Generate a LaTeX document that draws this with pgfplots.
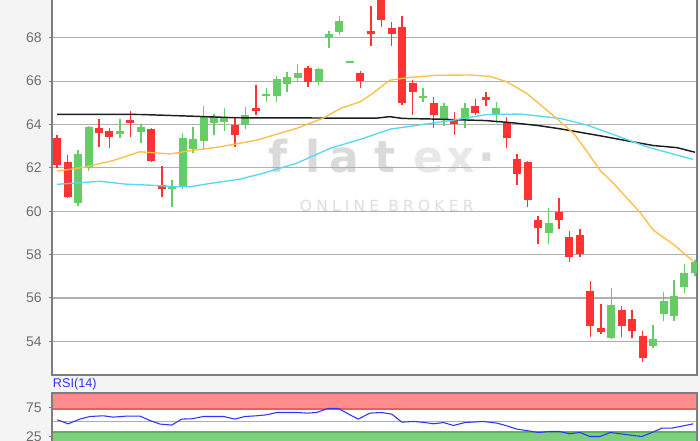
\documentclass[border=0pt]{standalone}
\usepackage{fontspec}
\setmainfont{Liberation Sans}
\newfontfamily\wmfont{DejaVu Sans}
\newfontfamily\wmfontsp{DejaVu Sans}[LetterSpace=28]
\usepackage{pgfplots}
\usepackage{pgfplotstable}
\pgfplotsset{compat=1.18}

\definecolor{cred}{RGB}{255,51,51}
\definecolor{cgreen}{RGB}{102,204,102}
\definecolor{bgray}{RGB}{244,244,244}
\definecolor{gridc}{RGB}{175,175,175}
\definecolor{axc}{RGB}{125,125,125}
\definecolor{tickc}{RGB}{110,110,110}
\definecolor{maorange}{RGB}{255,190,70}
\definecolor{macyan}{RGB}{85,215,245}
\definecolor{mablack}{RGB}{30,30,30}
\definecolor{rsiblue}{RGB}{50,50,255}
\definecolor{bandred}{RGB}{255,140,140}
\definecolor{bandredd}{RGB}{232,95,95}
\definecolor{bandgreen}{RGB}{125,208,125}
\definecolor{bandgreend}{RGB}{88,182,88}
\definecolor{wmA}{RGB}{218,218,218}
\definecolor{wmB}{RGB}{232,232,232}
\definecolor{wmC}{RGB}{222,222,222}

% up (green) candles: index open high low close
\pgfplotstableread{
i o h l c
2 60.39 62.82 60.26 62.64
3 62.05 63.92 61.87 63.90
6 63.55 64.24 63.39 63.70
8 63.67 64.00 63.13 63.90
11 61.05 61.44 60.21 61.12
12 61.16 63.60 61.02 63.36
13 62.85 63.90 62.70 63.33
14 63.25 64.85 62.82 64.33
15 64.08 64.50 63.50 64.33
16 64.13 64.74 63.72 64.28
18 63.97 64.82 63.79 64.43
20 65.33 65.67 65.05 65.39
21 65.33 66.23 65.05 66.10
22 65.85 66.43 65.51 66.20
23 66.13 66.77 65.97 66.36
25 65.97 66.60 65.82 66.54
26 68.05 68.31 67.51 68.16
27 68.28 69.00 68.12 68.78
28 66.87 66.94 66.87 66.94
35 65.23 65.67 65.05 65.31
37 64.20 65.00 63.93 64.85
39 64.24 64.97 63.82 64.77
42 64.48 65.05 64.05 64.77
47 59.01 60.13 58.47 59.47
53 54.17 56.47 54.09 55.67
57 53.80 54.74 53.68 54.12
58 55.25 56.29 54.95 55.87
59 55.18 56.83 54.95 56.10
60 56.49 57.55 56.24 57.14
61 57.16 57.75 57.01 57.67
}\upcandles

% down (red) candles: index open high low close
\pgfplotstableread{
i o h l c
0 63.36 63.51 61.98 62.13
1 62.28 62.60 60.59 60.64
4 63.82 64.24 62.97 63.62
5 63.70 63.82 62.90 63.44
7 64.20 64.60 63.43 64.08
9 63.78 63.82 62.28 62.33
10 61.21 62.10 60.67 61.01
17 63.97 64.28 62.97 63.51
19 64.74 65.82 64.43 64.62
24 66.59 66.70 65.71 65.97
29 66.36 66.48 65.67 66.00
30 68.32 69.46 67.62 68.16
31 70.10 70.30 68.51 68.82
32 68.43 68.74 67.62 68.16
33 68.51 69.00 64.90 64.97
34 65.93 66.05 64.43 65.51
36 64.97 65.25 63.85 64.43
38 64.24 64.59 63.51 64.00
40 64.85 65.16 64.43 64.54
41 65.28 65.51 64.85 65.13
43 64.13 64.36 62.90 63.36
44 62.39 62.62 61.21 61.70
45 62.28 62.30 60.21 60.52
46 59.59 59.78 58.47 59.24
48 59.98 60.59 59.16 59.59
49 58.80 59.10 57.67 57.87
50 58.90 59.16 57.87 58.03
51 56.33 56.78 54.21 54.71
52 54.63 55.71 54.34 54.44
54 55.44 55.63 54.21 54.71
55 55.03 55.44 54.14 54.47
56 54.26 54.49 53.03 53.22
}\downcandles

\begin{document}
\begin{tikzpicture}
% page background and plot areas
\fill[bgray] (0,0) rectangle (525pt,-330.75pt);
\fill[white] (39pt,0pt) rectangle (522.75pt,-281.25pt);
\fill[white] (39pt,-294.75pt) rectangle (522.75pt,-340pt);

% watermark
\begin{scope}[every node/.style={inner sep=0pt, anchor=base}]
\node[text=wmA, font=\wmfont\bfseries\fontsize{33}{36}\selectfont] at (208.5pt,-129.75pt) {f};
\node[text=wmA, font=\wmfont\bfseries\fontsize{33}{36}\selectfont] at (234.5pt,-129.75pt) {l};
\node[text=wmA, font=\wmfont\bfseries\fontsize{33}{36}\selectfont] at (258.5pt,-129.75pt) {a};
\node[text=wmA, font=\wmfont\bfseries\fontsize{33}{36}\selectfont] at (288.5pt,-129.75pt) {t};
\node[text=wmB, font=\wmfont\bfseries\fontsize{33}{36}\selectfont] at (321.5pt,-129.75pt) {e};
\node[text=wmB, font=\wmfont\bfseries\fontsize{33}{36}\selectfont] at (345.5pt,-129.75pt) {x};
\node[text=wmA, font=\wmfont\bfseries\fontsize{33}{36}\selectfont] at (365.5pt,-129.75pt) {·};
\node[text=wmC, font=\wmfontsp\fontsize{11.5}{14}\selectfont] at (290pt,-159pt) {ONLINE BROKER};
\end{scope}

% main price axis
\begin{axis}[
  at={(39pt,-281.25pt)}, anchor=south west,
  scale only axis, width=483.75pt, height=293.6pt,
  xmin=-0.5, xmax=61.2, ymin=52.446, ymax=70.5,
  xtick=\empty,
  ytick={54,56,58,60,62,64,66,68,70},
  ytick pos=left, tick align=outside,
  major tick length=2.5pt,
  ytick style={draw=axc, line width=0.8pt},
  ymajorgrids,
  major grid style={draw=gridc, line width=0.9pt},
  axis line style={draw=axc, line width=1.1pt},
  /pgf/number format/assume math mode=true,
  yticklabel style={font=\fontsize{10.5}{12}\selectfont, text=tickc, inner sep=0pt, xshift=-5pt},
  clip=true,
]
% wicks
\addplot[draw=none, mark=none, forget plot,
  error bars/.cd, y dir=both, y explicit, error mark=none,
  error bar style={draw=cgreen, line width=1.1pt}]
  table[x=i, y expr={(\thisrow{h}+\thisrow{l})/2}, y error expr={(\thisrow{h}-\thisrow{l})/2}] {\upcandles};
\addplot[draw=none, mark=none, forget plot,
  error bars/.cd, y dir=both, y explicit, error mark=none,
  error bar style={draw=cred, line width=1.1pt}]
  table[x=i, y expr={(\thisrow{h}+\thisrow{l})/2}, y error expr={(\thisrow{h}-\thisrow{l})/2}] {\downcandles};
% bodies
\addplot[draw=none, mark=none, forget plot,
  error bars/.cd, y dir=both, y explicit, error mark=none,
  error bar style={draw=cgreen, line width=6pt}]
  table[x=i, y expr={(\thisrow{o}+\thisrow{c})/2}, y error expr={abs(\thisrow{c}-\thisrow{o})/2}] {\upcandles};
\addplot[draw=none, mark=none, forget plot,
  error bars/.cd, y dir=both, y explicit, error mark=none,
  error bar style={draw=cred, line width=6pt}]
  table[x=i, y expr={(\thisrow{o}+\thisrow{c})/2}, y error expr={abs(\thisrow{c}-\thisrow{o})/2}] {\downcandles};

% moving averages
\addplot[mablack, line width=1.1pt, mark=none, line join=round] coordinates {
(0,64.47) (8,64.46) (13,64.38) (17,64.31) (30.5,64.29) (31.8,64.36) (33,64.28) (36,64.25)
(41,64.18) (43.5,64.08) (46,63.95) (48.1,63.80) (51.9,63.48) (54.5,63.25) (57,63.03)
(59.3,62.93) (61,62.72)};
\addplot[macyan, line width=1pt, mark=none, line join=round] coordinates {
(0,61.24) (4.1,61.38) (6.5,61.25) (8.9,61.20) (11.3,61.13) (12.7,61.13) (14.9,61.30)
(17.5,61.48) (19.7,61.75) (22.9,62.21) (26.1,62.90) (29.3,63.36) (31.8,63.78) (34.7,63.98)
(37.9,64.20) (41.1,64.46) (44.3,64.48) (48.1,64.28) (50.7,63.97) (53.8,63.43) (56.4,62.97)
(58.9,62.64) (60.8,62.39)};
\addplot[maorange, line width=1pt, mark=none, line join=round] coordinates {
(0,61.85) (2.5,62.02) (5.3,62.33) (7.9,62.74) (10.8,62.64) (12.7,62.79) (15.6,62.97)
(19.1,63.28) (22.9,63.82) (25.4,64.28) (27.1,64.74) (29.0,65.05) (30.2,65.44) (31.8,66.04)
(33.7,66.17) (36.3,66.27) (39.5,66.28) (41.4,66.22) (43.0,65.97) (44.9,65.44) (47.4,64.43)
(49.4,63.59) (50.7,62.74) (51.9,61.90) (53.2,61.29) (54.5,60.60) (55.8,59.92) (57.0,59.13)
(59.0,58.45) (60.8,57.70)};
\end{axis}

% RSI label
\node[anchor=west, inner sep=0pt, text=rsiblue, font=\fontsize{9.5}{11}\selectfont] at (39.5pt,-288.5pt) {RSI(14)};

% RSI axis
\begin{axis}[
  at={(39pt,-338.25pt)}, anchor=south west,
  scale only axis, width=483.75pt, height=43.5pt,
  xmin=-0.5, xmax=61.2, ymin=0, ymax=100,
  xtick=\empty, ytick={25,75},
  ytick pos=left, tick align=outside,
  major tick length=2.5pt,
  ytick style={draw=axc, line width=0.8pt},
  axis line style={draw=axc, line width=1.1pt},
  /pgf/number format/assume math mode=true,
  yticklabel style={font=\fontsize{10.5}{12}\selectfont, text=tickc, inner sep=0pt, xshift=-5pt},
  axis on top,
]
\addplot[fill=bandred, draw=none, forget plot] coordinates {(-0.5,71.5) (61.2,71.5) (61.2,100) (-0.5,100)} -- cycle;
\addplot[bandredd, line width=1.5pt, forget plot] coordinates {(-0.5,72.2) (61.2,72.2)};
\addplot[bandredd, line width=1pt, forget plot] coordinates {(-0.5,99.3) (61.2,99.3)};
\addplot[fill=bandgreen, draw=none, forget plot] coordinates {(-0.5,0) (61.2,0) (61.2,33.2) (-0.5,33.2)} -- cycle;
\addplot[bandgreend, line width=1.2pt, forget plot] coordinates {(-0.5,32.6) (61.2,32.6)};
\addplot[gridc, line width=1pt, forget plot] coordinates {(-0.5,50.5) (61.2,50.5)};
\addplot[rsiblue, line width=0.8pt, mark=none, line join=round] coordinates {
(0,53.8) (1.05,46.9) (2.17,55.0) (3.13,59.5) (4.4,60.7) (5.36,58.4) (6.64,60.2) (7.91,60.2)
(8.87,52.6) (9.83,46.4) (10.95,44.7) (11.9,55.0) (12.86,55.5) (13.98,59.5) (14.93,59.5)
(15.9,59.5) (17.0,55.0) (17.96,59.5) (19.08,60.7) (20.04,62.4) (21.0,66.4) (21.95,66.4)
(22.9,66.4) (23.9,65.3) (24.8,66.4) (25.9,73.3) (26.9,73.3) (28.0,62.4) (28.8,55.0)
(29.9,65.3) (31.0,66.4) (32.0,63.6) (32.96,49.8) (34.07,50.9) (35,49.5) (36.0,46.9)
(36.94,49.1) (37.9,44.0) (39.0,49.1) (40.77,50.9) (42.05,48.1) (43.0,43.4) (43.96,37.8)
(44.9,35.3) (46.0,31.9) (47.1,33.6) (48.07,33.6) (49.0,29.7) (50.0,31.9) (50.97,25.0)
(51.9,25.0) (52.9,31.9) (53.85,29.7) (54.8,27.4) (55.9,25.0) (56.9,31.9) (57.85,39.5)
(58.8,39.5) (59.9,43.4) (60.86,46.9)};
\end{axis}

\pgfresetboundingbox
\path[use as bounding box] (0,0) rectangle (525pt,-330.75pt);
\end{tikzpicture}
\end{document}
